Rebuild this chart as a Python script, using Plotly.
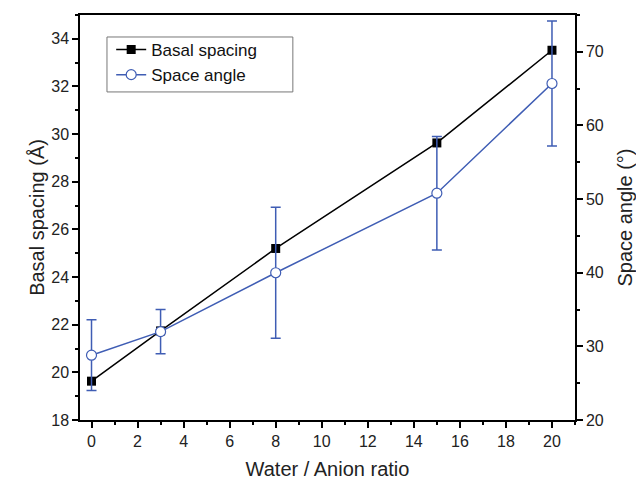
import plotly.graph_objects as go

ratio = [0, 3, 8, 15, 20]
basal_spacing = [19.63, 21.74, 25.2, 29.63, 33.52]
space_angle = [28.8, 32.0, 40.0, 50.8, 65.7]
space_angle_err = [4.8, 3.0, 8.9, 7.7, 8.5]

BLUE = "#3F5DB4"
FONT = "Liberation Sans, Arial, sans-serif"

fig = go.Figure()
fig.add_trace(go.Scatter(
    x=ratio, y=basal_spacing, name="Basal spacing", mode="lines+markers",
    line=dict(color="black", width=1.5),
    marker=dict(symbol="square", size=9, color="black"),
    yaxis="y",
))
fig.add_trace(go.Scatter(
    x=ratio, y=space_angle, name="Space angle", mode="lines+markers",
    line=dict(color=BLUE, width=1.5),
    marker=dict(symbol="circle", size=10, color="white", line=dict(color=BLUE, width=1.2)),
    error_y=dict(type="data", array=space_angle_err, visible=True, color=BLUE, thickness=1.5, width=5),
    yaxis="y2",
))

axis_common = dict(
    showline=True, linecolor="black", linewidth=1.5,
    ticks="outside", ticklen=6, tickwidth=1.5, tickcolor="black",
    showgrid=False, zeroline=False, automargin=False,
    tickfont=dict(family=FONT, size=16, color="#222"),
)
TITLE_FONT = dict(family=FONT, size=20, color="#222")

fig.update_layout(
    width=636, height=485,
    margin=dict(l=80, r=61, t=15, b=65),
    paper_bgcolor="white", plot_bgcolor="white",
    font=dict(family=FONT, color="#222"),
    showlegend=True,
    legend=dict(
        x=0.063, y=0.958, xanchor="left", yanchor="top",
        borderwidth=0, bgcolor="rgba(0,0,0,0)",
        font=dict(family=FONT, size=17, color="#111"),
    ),
    shapes=[dict(
        type="rect", xref="paper", yref="paper",
        x0=0.0545, x1=0.430, y0=0.810, y1=0.9457,
        line=dict(color="#777", width=1), fillcolor="rgba(0,0,0,0)", layer="above",
    )],
    xaxis=dict(
        range=[-0.5, 21], tickmode="array", tickvals=list(range(0, 21, 2)),
        minor=dict(tickvals=list(range(1, 22, 2)), ticks="outside", ticklen=3, tickwidth=1.5, tickcolor="black"),
        mirror=True,
        title=dict(text="Water / Anion ratio", font=TITLE_FONT, standoff=13),
        **axis_common,
    ),
    yaxis=dict(
        range=[18, 35], tickmode="array", tickvals=list(range(18, 35, 2)),
        minor=dict(tickvals=list(range(19, 36, 2)), ticks="outside", ticklen=3, tickwidth=1.5, tickcolor="black"),
        title=dict(text="Basal spacing (Å)", font=TITLE_FONT, standoff=1),
        **axis_common,
    ),
    yaxis2=dict(
        range=[20, 75], overlaying="y", side="right", tickmode="array", tickvals=list(range(20, 71, 10)),
        minor=dict(tickvals=list(range(25, 76, 10)), ticks="outside", ticklen=3, tickwidth=1.5, tickcolor="black"),
        title=dict(text="Space angle (°)", font=TITLE_FONT, standoff=15),
        **axis_common,
    ),
)

fig.write_html("out.html")
